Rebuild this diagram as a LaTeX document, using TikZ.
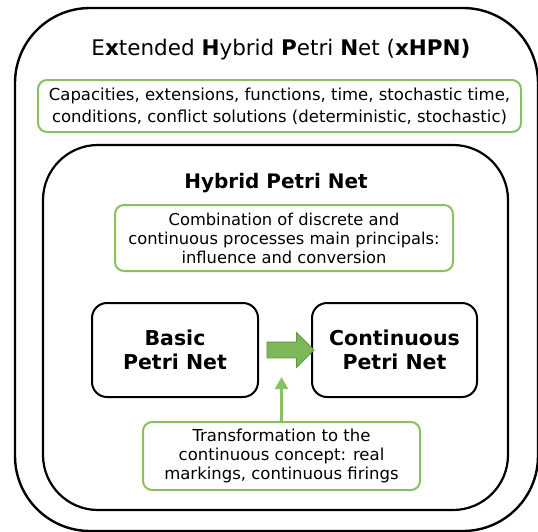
\documentclass[tikz,border=0pt]{standalone}
\usepackage{fontspec}
\setmainfont{DejaVu Sans}
\usetikzlibrary{shapes.arrows,arrows.meta}
\definecolor{gline}{RGB}{137,192,98}
\definecolor{gfill}{RGB}{124,183,88}
\definecolor{gdark}{RGB}{96,152,64}
\tikzset{
  bigbox/.style={draw=black, line width=2.4pt, rectangle, inner sep=0pt},
  greenbox/.style={draw=gline, line width=2pt, rounded corners=9pt, rectangle, align=center, inner sep=0pt, fill=white},
  netbox/.style={draw=black, line width=2pt, rounded corners=15pt, rectangle, align=center, inner sep=0pt, font=\fontsize{20.5}{24.5}\selectfont\bfseries},
}
\begin{document}
\begin{tikzpicture}[x=1pt,y=-1pt]
\useasboundingbox (0,0) rectangle (538,531);
\fill[white] (0,0) rectangle (538,531);
\node[bigbox, rounded corners=75pt, minimum width=523pt, minimum height=523pt] (outer) at (276.5,269.5) {};
\node[font=\fontsize{21.5}{24}\selectfont] (title) at (281,50) {E\textbf{x}tended \textbf{H}ybrid \textbf{P}etri \textbf{N}et (\textbf{xHPN)}};
\node[greenbox, minimum width=483pt, minimum height=52pt, font=\fontsize{16.5}{22}\selectfont] (ext) at (279.5,106) {Capacities, extensions, functions, time, stochastic time,\\conditions, conflict solutions (deterministic, stochastic)};
\node[bigbox, line width=2.2pt, rounded corners=55pt, minimum width=465pt, minimum height=365pt] (inner) at (275.5,327.5) {};
\node[font=\fontsize{20}{22}\selectfont\bfseries] (hpn) at (276,183) {Hybrid Petri Net};
\node[greenbox, minimum width=338pt, minimum height=66pt, font=\fontsize{16.3}{19}\selectfont] (comb) at (284,238) {Combination of discrete and\\continuous processes main principals:\\influence and conversion};
\node[netbox, minimum width=166pt, minimum height=94pt] (basic) at (175,350) {Basic\\Petri Net};
\node[netbox, minimum width=165pt, minimum height=94pt] (cont) at (394.5,350) {Continuous\\Petri Net};
\node[single arrow, fill=gfill, draw=gdark, line width=0.8pt, minimum height=47pt, minimum width=34pt, inner xsep=0pt, inner ysep=7.5pt, single arrow head extend=9.5pt] (arr) at (286.5,350) {};
\node[greenbox, minimum width=277pt, minimum height=68pt, font=\fontsize{16.5}{19}\selectfont] (trans) at (281.5,456) {Transformation to the\\continuous concept: real\\markings, continuous firings};
\coordinate (uptip) at (281.5,377);
\draw[gline, line width=2.5pt, -{Triangle[length=12pt,width=13pt]}] (trans.north) -- (uptip);
\end{tikzpicture}
\end{document}
